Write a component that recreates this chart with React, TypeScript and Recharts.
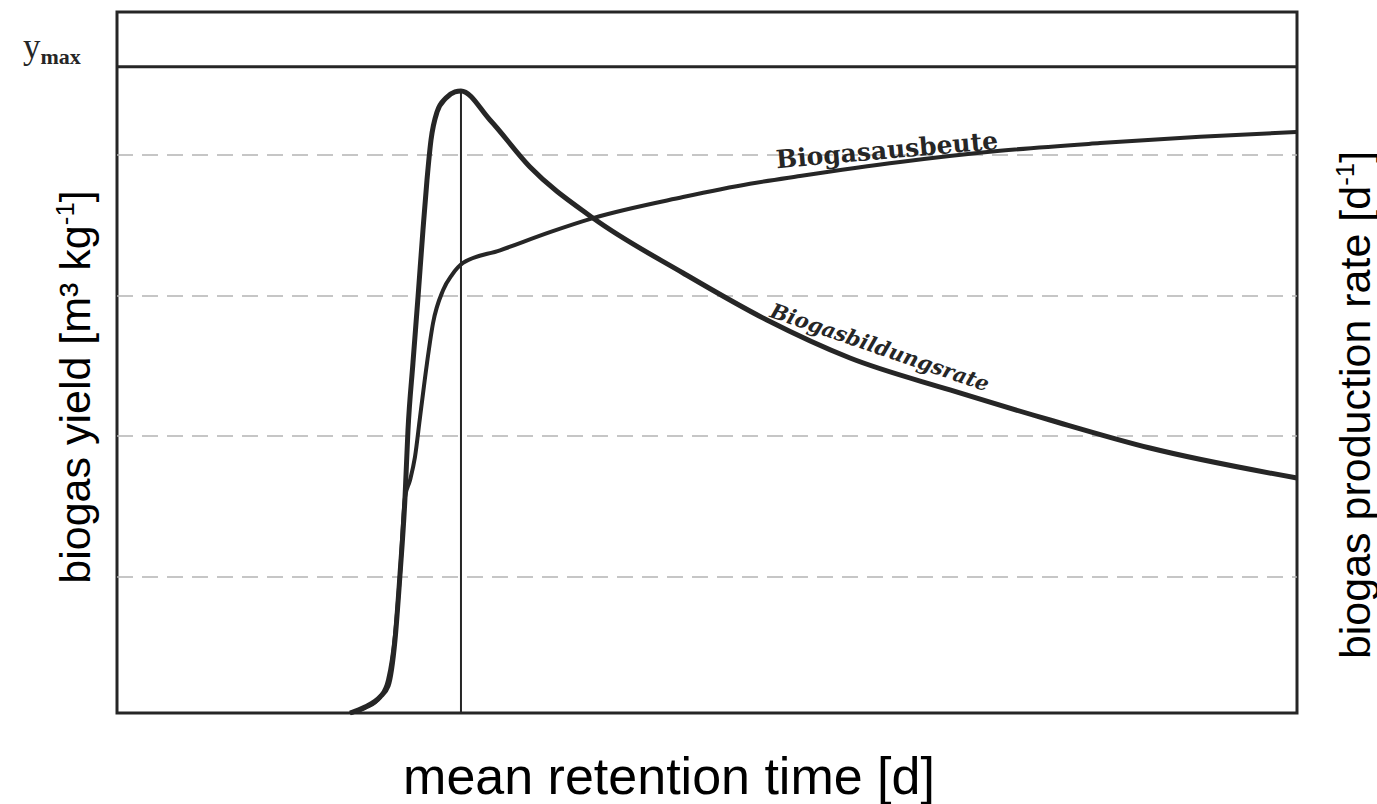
import React from 'react';
import { LineChart, Line, XAxis, YAxis, ReferenceLine, ReferenceArea, ReferenceDot } from 'recharts';

// retention time (relative units, 0..100) and values (relative, 0..100)
const yieldX = [19.75, 21.02, 22.29, 22.97, 23.56, 23.98, 24.41, 24.83, 25.25, 25.68, 26.27, 26.78, 27.63, 28.39, 29.32, 32.46, 36.69, 40.34, 47.97, 53.64, 57.88, 66.36, 74.83, 83.31, 91.78, 100];
const yieldY = [0, 0.71, 2.28, 4.71, 11.13, 19.69, 30.81, 33.2, 36.5, 42.2, 49.9, 55.6, 60.3, 62.5, 64.2, 66.0, 68.6, 70.6, 73.6, 75.5, 76.6, 78.6, 80.2, 81.3, 82.2, 82.9];

const rateX = [19.75, 21.02, 22.29, 22.97, 23.56, 23.98, 24.41, 24.66, 25.08, 25.51, 25.93, 26.27, 26.61, 27.12, 27.88, 28.64, 29.15, 31.61, 35.0, 40.34, 47.97, 55.08, 62.12, 70.59, 79.07, 87.54, 100];
const rateY = [0, 0.86, 2.28, 3.85, 10.41, 19.69, 30.81, 40.37, 49.93, 59.34, 68.9, 76.03, 81.74, 85.73, 87.73, 88.59, 88.74, 84.59, 77.89, 70.61, 62.77, 56.06, 50.64, 46.08, 41.8, 37.8, 33.52];

const GRID_LEVELS = [19.4, 39.5, 59.5, 79.6];
const Y_MAX = 92.2;
const OPTIMUM_X = 29.15;
const PEAK_RATE = 88.74;

const yieldData = yieldX.map((x, i) => ({ x, y: yieldY[i] }));
const rateData = rateX.map((x, i) => ({ x, y: rateY[i] }));

const INK = '#262626';

const YMaxLabel = (props: any) => {
  const { viewBox } = props;
  return (
    <text x={viewBox.x - 94} y={viewBox.y - 9} fill={INK} fontFamily="'Liberation Serif', serif">
      <tspan fontSize={35}>y</tspan>
      <tspan fontSize={22} fontWeight="bold" dy={6}>max</tspan>
    </text>
  );
};

const CurveLabel = (props: any) => {
  const { viewBox, caption, tilt, slanted, size } = props;
  const cx = viewBox.x + viewBox.width / 2;
  const cy = viewBox.y + viewBox.height / 2;
  return (
    <g transform={`rotate(${tilt} ${cx} ${cy})`}>
      <text
        x={cx}
        y={cy}
        textAnchor="middle"
        dominantBaseline="central"
        fontFamily="'DejaVu Serif', serif"
        fontWeight="bold"
        fontStyle={slanted ? 'italic' : 'normal'}
        fontSize={size}
        fill={INK}
      >
        {caption}
      </text>
    </g>
  );
};

const sideTitle: React.CSSProperties = {
  position: 'absolute',
  fontFamily: "'Liberation Sans', Arial, sans-serif",
  fontSize: 43,
  lineHeight: 1,
  whiteSpace: 'nowrap',
  color: '#000',
};

export default function App() {
  return (
    <div style={{ position: 'absolute', left: 0, top: 0, width: 1377, height: 804, background: '#fff' }}>
      <LineChart
        width={1377}
        height={804}
        margin={{ top: 12, right: 80, bottom: 91, left: 117 }}
      >
        <XAxis dataKey="x" type="number" domain={[0, 100]} hide />
        <YAxis type="number" domain={[0, 100]} hide />

        {GRID_LEVELS.map((g) => (
          <ReferenceLine key={g} y={g} stroke="#b4b4b4" strokeWidth={1.5} strokeDasharray="16 9" />
        ))}

        <ReferenceArea x1={0} x2={100} y1={0} y2={100} fill="none" stroke={INK} strokeWidth={3} fillOpacity={0} />
        <ReferenceLine y={Y_MAX} stroke={INK} strokeWidth={3} label={<YMaxLabel />} />
        <ReferenceLine
          segment={[{ x: OPTIMUM_X, y: 0 }, { x: OPTIMUM_X, y: PEAK_RATE }]}
          stroke={INK}
          strokeWidth={2}
        />

        <Line
          data={rateData}
          dataKey="y"
          type="monotone"
          stroke={INK}
          strokeWidth={5}
          dot={false}
          isAnimationActive={false}
        />
        <Line
          data={yieldData}
          dataKey="y"
          type="monotone"
          stroke={INK}
          strokeWidth={4}
          dot={false}
          isAnimationActive={false}
        />

        <ReferenceDot
          x={65.25}
          y={80.3}
          r={1}
          fill="none"
          stroke="none"
          label={<CurveLabel caption="Biogasausbeute" tilt={-5} size={25} />}
        />
        <ReferenceDot
          x={64.66}
          y={52.2}
          r={1}
          fill="none"
          stroke="none"
          label={<CurveLabel caption="Biogasbildungsrate" tilt={19} slanted size={21} />}
        />
      </LineChart>

      <div style={{ ...sideTitle, left: 75, top: 387, transform: 'translate(-50%, -50%) rotate(-90deg)' }}>
        biogas yield [m³ kg<sup style={{ fontSize: '0.6em' }}>-1</sup>]
      </div>
      <div style={{ ...sideTitle, left: 1355, top: 405, transform: 'translate(-50%, -50%) rotate(-90deg)' }}>
        biogas production rate [d<sup style={{ fontSize: '0.6em' }}>-1</sup>]
      </div>
      <div style={{ ...sideTitle, fontSize: 52, left: 669, top: 776, transform: 'translate(-50%, -50%)' }}>
        mean retention time [d]
      </div>
    </div>
  );
}
